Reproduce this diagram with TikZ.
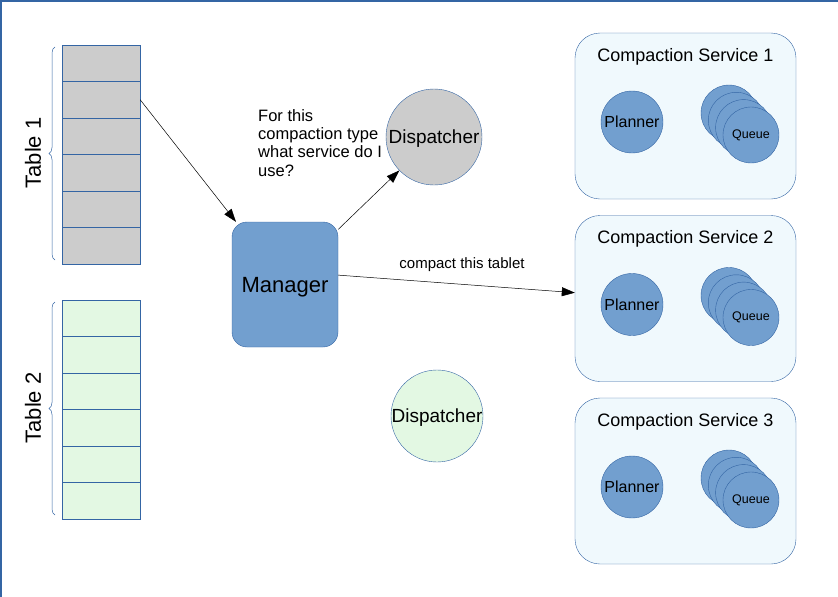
\documentclass[tikz,border=0pt]{standalone}
\usepackage{fontspec}
\setmainfont{Liberation Sans}
\usepackage{xcolor}
\usepackage{tikz}
\usetikzlibrary{shapes,shapes.geometric}
\usetikzlibrary{calc,arrows.meta,positioning,decorations.pathreplacing}
\definecolor{lineblue}{HTML}{3465A4}
\definecolor{mgrblue}{HTML}{729FCF}
\definecolor{tblgray}{HTML}{CCCCCC}
\definecolor{tblgreen}{HTML}{E3F8E3}
\definecolor{svcfill}{HTML}{F0F9FD}
\tikzset{
  rowgray/.style={rectangle, draw=lineblue, fill=tblgray, minimum width=78pt, minimum height=36.5pt, inner sep=0pt},
  rowgreen/.style={rowgray, fill=tblgreen},
  tbrace/.style={draw=lineblue, line width=0.5pt, decorate, decoration={brace, amplitude=6pt}},
  mgr/.style={rectangle, rounded corners=15pt, draw=lineblue, fill=mgrblue, minimum width=106pt, minimum height=125pt, text depth=0pt, font=\fontsize{22}{26}\selectfont},
  disp/.style={circle, draw=lineblue, inner sep=0pt, text depth=0pt, font=\fontsize{19}{22}\selectfont},
  svcbox/.style={rectangle, rounded corners=25pt, draw=lineblue, fill=svcfill, minimum width=221pt, minimum height=166pt},
  circ_p/.style={circle, draw=lineblue, fill=mgrblue, minimum size=62pt, inner sep=0pt, font=\fontsize{16}{18}\selectfont},
  circ_q/.style={circle, draw=lineblue, fill=mgrblue, minimum size=56pt, inner sep=0pt, font=\fontsize{12.5}{14}\selectfont},
  arr/.style={-{Triangle[length=13pt,width=9pt]}, black, line width=0.5pt}
}
\begin{document}
\begin{tikzpicture}[x=1pt,y=-1pt]
  \useasboundingbox (0,0) rectangle (838,597);
  \draw[lineblue, line width=1.5pt] (0.75,597) -- (0.75,0.75) -- (838,0.75);

  % tables
  \foreach \i in {1,...,6}{
    \node[rowgray] (t1r\i) at (101,{45+36.5*(\i-0.5)}) {};
    \node[rowgreen] (t2r\i) at (101,{300+36.5*(\i-0.5)}) {};
  }
  \draw[tbrace] (55,260) -- (55,47);
  \draw[tbrace] (55,515) -- (55,302);
  \node[rotate=90, font=\fontsize{22}{26}\selectfont] (lbl1) at (33,153) {Table 1};
  \node[rotate=90, font=\fontsize{22}{26}\selectfont] (lbl2) at (33,408) {Table 2};

  \node[mgr] (manager) at (285,284.5) {Manager};
  \node[disp, fill=tblgray, minimum size=96pt] (disp1) at (434,137) {Dispatcher};
  \node[disp, fill=tblgreen, minimum size=92pt] (disp2) at (437,416) {Dispatcher};
  \node[anchor=north west, align=left, inner sep=0pt, font=\fontsize{16.5}{18.3}\selectfont] (question) at (258,109)
    {For this\\compaction type\\what service do I\\use?};

  % compaction services
  \foreach \s in {1,2,3}{
    \node[svcbox] (svc\s) at (685.5,{116+182.5*(\s-1)}) {};
    \node[font=\fontsize{18}{21}\selectfont] (title\s) at (685.5,{56.5+182.5*(\s-1)}) {Compaction Service \s};
    \node[circ_p] (plan\s) at (632,{122+182.5*(\s-1)}) {Planner};
    \foreach \k in {0,1,2}
      \node[circ_q] (q\s\k) at ({729+7.3*\k},{113+7.3*\k+182.5*(\s-1)}) {};
    \node[circ_q] (queue\s) at (751,{135+182.5*(\s-1)}) {Queue};
  }

  \draw[arr] (t1r2.east) -- (manager);
  \draw[arr] (manager.46) -- (disp1);
  \draw[arr] (manager.10) -- (svc2.177);
  \node[font=\fontsize{15}{18}\selectfont] (compact) at (462,265) {compact this tablet};
\end{tikzpicture}
\end{document}
